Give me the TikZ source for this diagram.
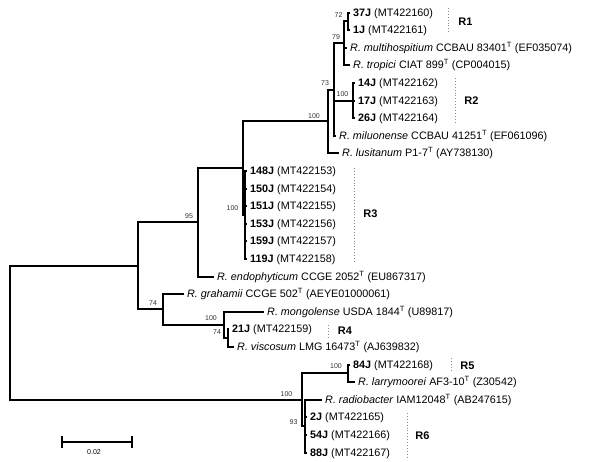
\documentclass[tikz,border=0pt]{standalone}
\usepackage{fontspec}
\setmainfont{Liberation Sans}
\begin{document}
\begin{tikzpicture}[x=1pt,y=-1pt,
  br/.style={line width=2pt,line join=miter},
  leaf/.style={anchor=west,inner xsep=3pt,inner ysep=0pt,text height=7.8pt,text depth=0pt,font=\fontsize{10.8}{12}\selectfont},
  boot/.style={inner sep=0pt,text=black!80,font=\fontsize{7}{8}\selectfont},
  grp/.style={inner sep=0pt,font=\fontsize{11}{13}\selectfont\bfseries},
  dots/.style={draw=black!45,line width=0.9pt,dotted}]
\useasboundingbox (0,0) rectangle (600,461);
% leaves
\node[leaf] (l0) at (350,13) {\textbf{37J} (MT422160)};
\node[leaf] (l1) at (350,30) {\textbf{1J} (MT422161)};
\node[leaf] (l2) at (347,48) {\textit{R. multihospitium} CCBAU 83401\textsuperscript{T} (EF035074)};
\node[leaf] (l3) at (350,65) {\textit{R. tropici} CIAT 899\textsuperscript{T} (CP004015)};
\node[leaf] (l4) at (355,83) {\textbf{14J} (MT422162)};
\node[leaf] (l5) at (355,101) {\textbf{17J} (MT422163)};
\node[leaf] (l6) at (355,118) {\textbf{26J} (MT422164)};
\node[leaf] (l7) at (336,136) {\textit{R. miluonense} CCBAU 41251\textsuperscript{T} (EF061096)};
\node[leaf] (l8) at (339,153) {\textit{R. lusitanum} P1-7\textsuperscript{T} (AY738130)};
\node[leaf] (l9) at (247,171) {\textbf{148J} (MT422153)};
\node[leaf] (l10) at (247,189) {\textbf{150J} (MT422154)};
\node[leaf] (l11) at (247,206) {\textbf{151J} (MT422155)};
\node[leaf] (l12) at (247,224) {\textbf{153J} (MT422156)};
\node[leaf] (l13) at (247,241) {\textbf{159J} (MT422157)};
\node[leaf] (l14) at (247,259) {\textbf{119J} (MT422158)};
\node[leaf] (l15) at (214,277) {\textit{R. endophyticum} CCGE 2052\textsuperscript{T} (EU867317)};
\node[leaf] (l16) at (184,294) {\textit{R. grahamii} CCGE 502\textsuperscript{T} (AEYE01000061)};
\node[leaf] (l17) at (264,312) {\textit{R. mongolense} USDA 1844\textsuperscript{T} (U89817)};
\node[leaf] (l18) at (229,329) {\textbf{21J} (MT422159)};
\node[leaf] (l19) at (234,347) {\textit{R. viscosum} LMG 16473\textsuperscript{T} (AJ639832)};
\node[leaf] (l20) at (350,365) {\textbf{84J} (MT422168)};
\node[leaf] (l21) at (355,382) {\textit{R. larrymoorei} AF3-10\textsuperscript{T} (Z30542)};
\node[leaf] (l22) at (322,400) {\textit{R. radiobacter} IAM12048\textsuperscript{T} (AB247615)};
\node[leaf] (l23) at (307,417) {\textbf{2J} (MT422165)};
\node[leaf] (l24) at (307,435) {\textbf{54J} (MT422166)};
\node[leaf] (l25) at (307,453) {\textbf{88J} (MT422167)};
% internal nodes
\coordinate (n72) at (348,21);
\coordinate (n79) at (344,43);
\coordinate (nR2) at (353,101);
\coordinate (n73) at (334,90);
\coordinate (n100a) at (328,121);
\coordinate (nR3) at (245,215);
\coordinate (nB) at (243,168);
\coordinate (n95) at (198,222);
\coordinate (n74b) at (228,338);
\coordinate (n100b) at (224,325);
\coordinate (n74) at (163,309);
\coordinate (nC) at (138,266);
\coordinate (nR5) at (348,373);
\coordinate (n93) at (305,426);
\coordinate (nR56) at (302,400);
\coordinate (root) at (10,333);
% branches
\draw[br] (n72) |- (l0.west);
\draw[br] (n72) |- (l1.west);
\draw[br] (n79) |- (n72);
\draw[br] (n79) |- (l2.west);
\draw[br] (n79) |- (l3.west);
\draw[br] (nR2) |- (l4.west);
\draw[br] (nR2) |- (l5.west);
\draw[br] (nR2) |- (l6.west);
\draw[br] (n73) |- (n79);
\draw[br] (n73) |- (nR2);
\draw[br] (n73) |- (l7.west);
\draw[br] (n100a) |- (n73);
\draw[br] (n100a) |- (l8.west);
\foreach \i in {9,...,14} {\draw[br] (nR3) |- (l\i.west);}
\draw[br] (nB) |- (n100a);
\draw[br] (nB) |- (nR3);
\draw[br] (n95) |- (nB);
\draw[br] (n95) |- (l15.west);
\draw[br] (n74b) |- (l18.west);
\draw[br] (n74b) |- (l19.west);
\draw[br] (n100b) |- (l17.west);
\draw[br] (n100b) |- (n74b);
\draw[br] (n74) |- (l16.west);
\draw[br] (n74) |- (n100b);
\draw[br] (nC) |- (n95);
\draw[br] (nC) |- (n74);
\draw[br] (nR5) |- (l20.west);
\draw[br] (nR5) |- (l21.west);
\foreach \i in {22,...,25} {\draw[br] (n93) |- (l\i.west);}
\draw[br] (nR56) |- (nR5);
\draw[br] (nR56) |- (n93);
\draw[br] (root) |- (nC);
\draw[br] (root) |- (nR56);
% bootstrap values
\node[boot] (b72) at (338.5,15) {72};
\node[boot] (b79) at (336,37) {79};
\node[boot] (b73) at (325,83) {73};
\node[boot] (bR2) at (342.5,94) {100};
\node[boot] (b100a) at (314,116) {100};
\node[boot] (b95) at (189,216) {95};
\node[boot] (bR3) at (232.5,208) {100};
\node[boot] (b74) at (153,303) {74};
\node[boot] (b100b) at (211,318) {100};
\node[boot] (b74b) at (217,332) {74};
\node[boot] (bR5) at (336,366) {100};
\node[boot] (bR56) at (286.5,394) {100};
\node[boot] (b93) at (293.5,422) {93};
% group labels
\draw[dots] (448,8) coordinate (d1a) -- (448,33) coordinate (d1b);
\node[grp] (g1) at (465.5,21.5) {R1};
\draw[dots] (455,78) coordinate (d2a) -- (455,123) coordinate (d2b);
\node[grp] (g2) at (471.5,100.5) {R2};
\draw[dots] (354,168) coordinate (d3a) -- (354,263) coordinate (d3b);
\node[grp] (g3) at (370.5,214) {R3};
\draw[dots] (328,325) coordinate (d4a) -- (328,337) coordinate (d4b);
\node[grp] (g4) at (345,331) {R4};
\draw[dots] (451,358) coordinate (d5a) -- (451,371) coordinate (d5b);
\node[grp] (g5) at (467.5,365.5) {R5};
\draw[dots] (407,413) coordinate (d6a) -- (407,457) coordinate (d6b);
\node[grp] (g6) at (422.5,435.5) {R6};
% scale bar
\coordinate (sa) at (62,442);
\coordinate (sb) at (132,442);
\draw[line width=2pt] (sa) -- (sb);
\draw[line width=2pt] ([yshift=-6pt]sa) -- ([yshift=6pt]sa);
\draw[line width=2pt] ([yshift=-6pt]sb) -- ([yshift=6pt]sb);
\node[boot,text=black] (sl) at (94,452.5) {0.02};
\end{tikzpicture}
\end{document}
